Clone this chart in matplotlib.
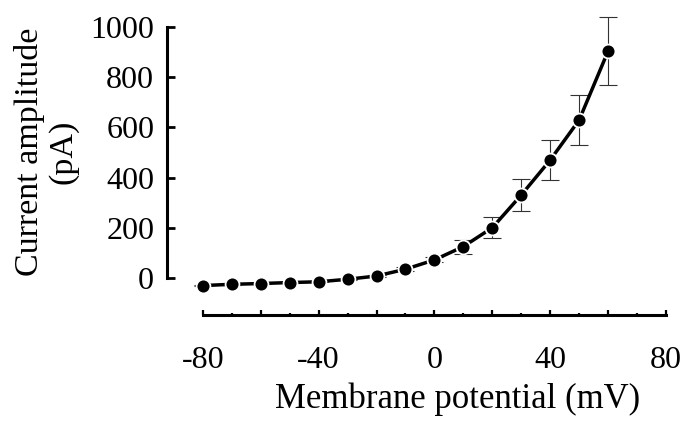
import numpy as np
import matplotlib
matplotlib.use('Agg')
import matplotlib.pyplot as plt
from matplotlib.ticker import FixedLocator, FuncFormatter

plt.rcParams['font.family'] = ['Liberation Serif', 'DejaVu Serif']

# membrane potential (mV) vs mean current (pA) with error bars
potential = [-80, -70, -60, -50, -40, -30, -20, -10, 0, 10, 20, 30, 40, 50, 60]
current = [-29, -24, -21, -17, -14, -4, 9, 36, 73, 126, 201, 331, 470, 629, 903]
error = [2, 2, 2, 2, 2, 3, 4, 9, 10, 28, 42, 62, 78, 100, 136]

x_major = [-80, -60, -40, -20, 0, 20, 40, 60, 80]
x_minor = [-70, -50, -30, -10, 10, 30, 50, 70]
x_labelled = [-80, -40, 0, 40, 80]
y_ticks = [0, 200, 400, 600, 800, 1000]

fig = plt.figure(figsize=(6.96, 4.4), dpi=100)
ax = fig.add_axes([0.2395, 0.2841, 0.9569 - 0.2395, 0.968 - 0.2841])

ax.errorbar(potential, current, yerr=error, fmt='none', ecolor='#333333',
            elinewidth=0.8, capsize=6.5, capthick=0.8, zorder=2)
ax.plot(potential, current, color='black', lw=2.5, marker='o', ms=10,
        mfc='black', mec='white', mew=1.3, zorder=3)

ax.set_xlim(-92.5, 80)
ax.set_ylim(-146, 1050)

for s in ['top', 'right']:
    ax.spines[s].set_visible(False)
ax.spines['left'].set_bounds(0, 1000)
ax.spines['bottom'].set_bounds(-80, 80)
ax.spines['left'].set_linewidth(2.2)
ax.spines['bottom'].set_linewidth(2.2)

ax.set_yticks(y_ticks)
ax.set_yticklabels([str(v) for v in y_ticks])
ax.xaxis.set_major_locator(FixedLocator(x_major))
ax.xaxis.set_minor_locator(FixedLocator(x_minor))
ax.xaxis.set_major_formatter(FuncFormatter(
    lambda v, p: '%d' % v if int(round(v)) in x_labelled else ''))

ax.tick_params(axis='y', direction='in', length=5.5, width=2, pad=9,
               labelsize=23)
ax.tick_params(axis='x', which='major', direction='in', length=3.5, width=1.6,
               pad=22, labelsize=23)
ax.tick_params(axis='x', which='minor', direction='in', length=1.8, width=1.6)

ax.set_xlabel('Membrane potential (mV)', fontsize=25)
ax.xaxis.set_label_coords(0.583, -0.225)
ax.xaxis.label.set_va('top')

ax.text(-0.2407, 0.5415, 'Current amplitude\n(pA)', transform=ax.transAxes,
        rotation=90, ha='center', va='center', multialignment='center',
        fontsize=24.5, linespacing=1.1)

fig.savefig('out.png', dpi=100)
